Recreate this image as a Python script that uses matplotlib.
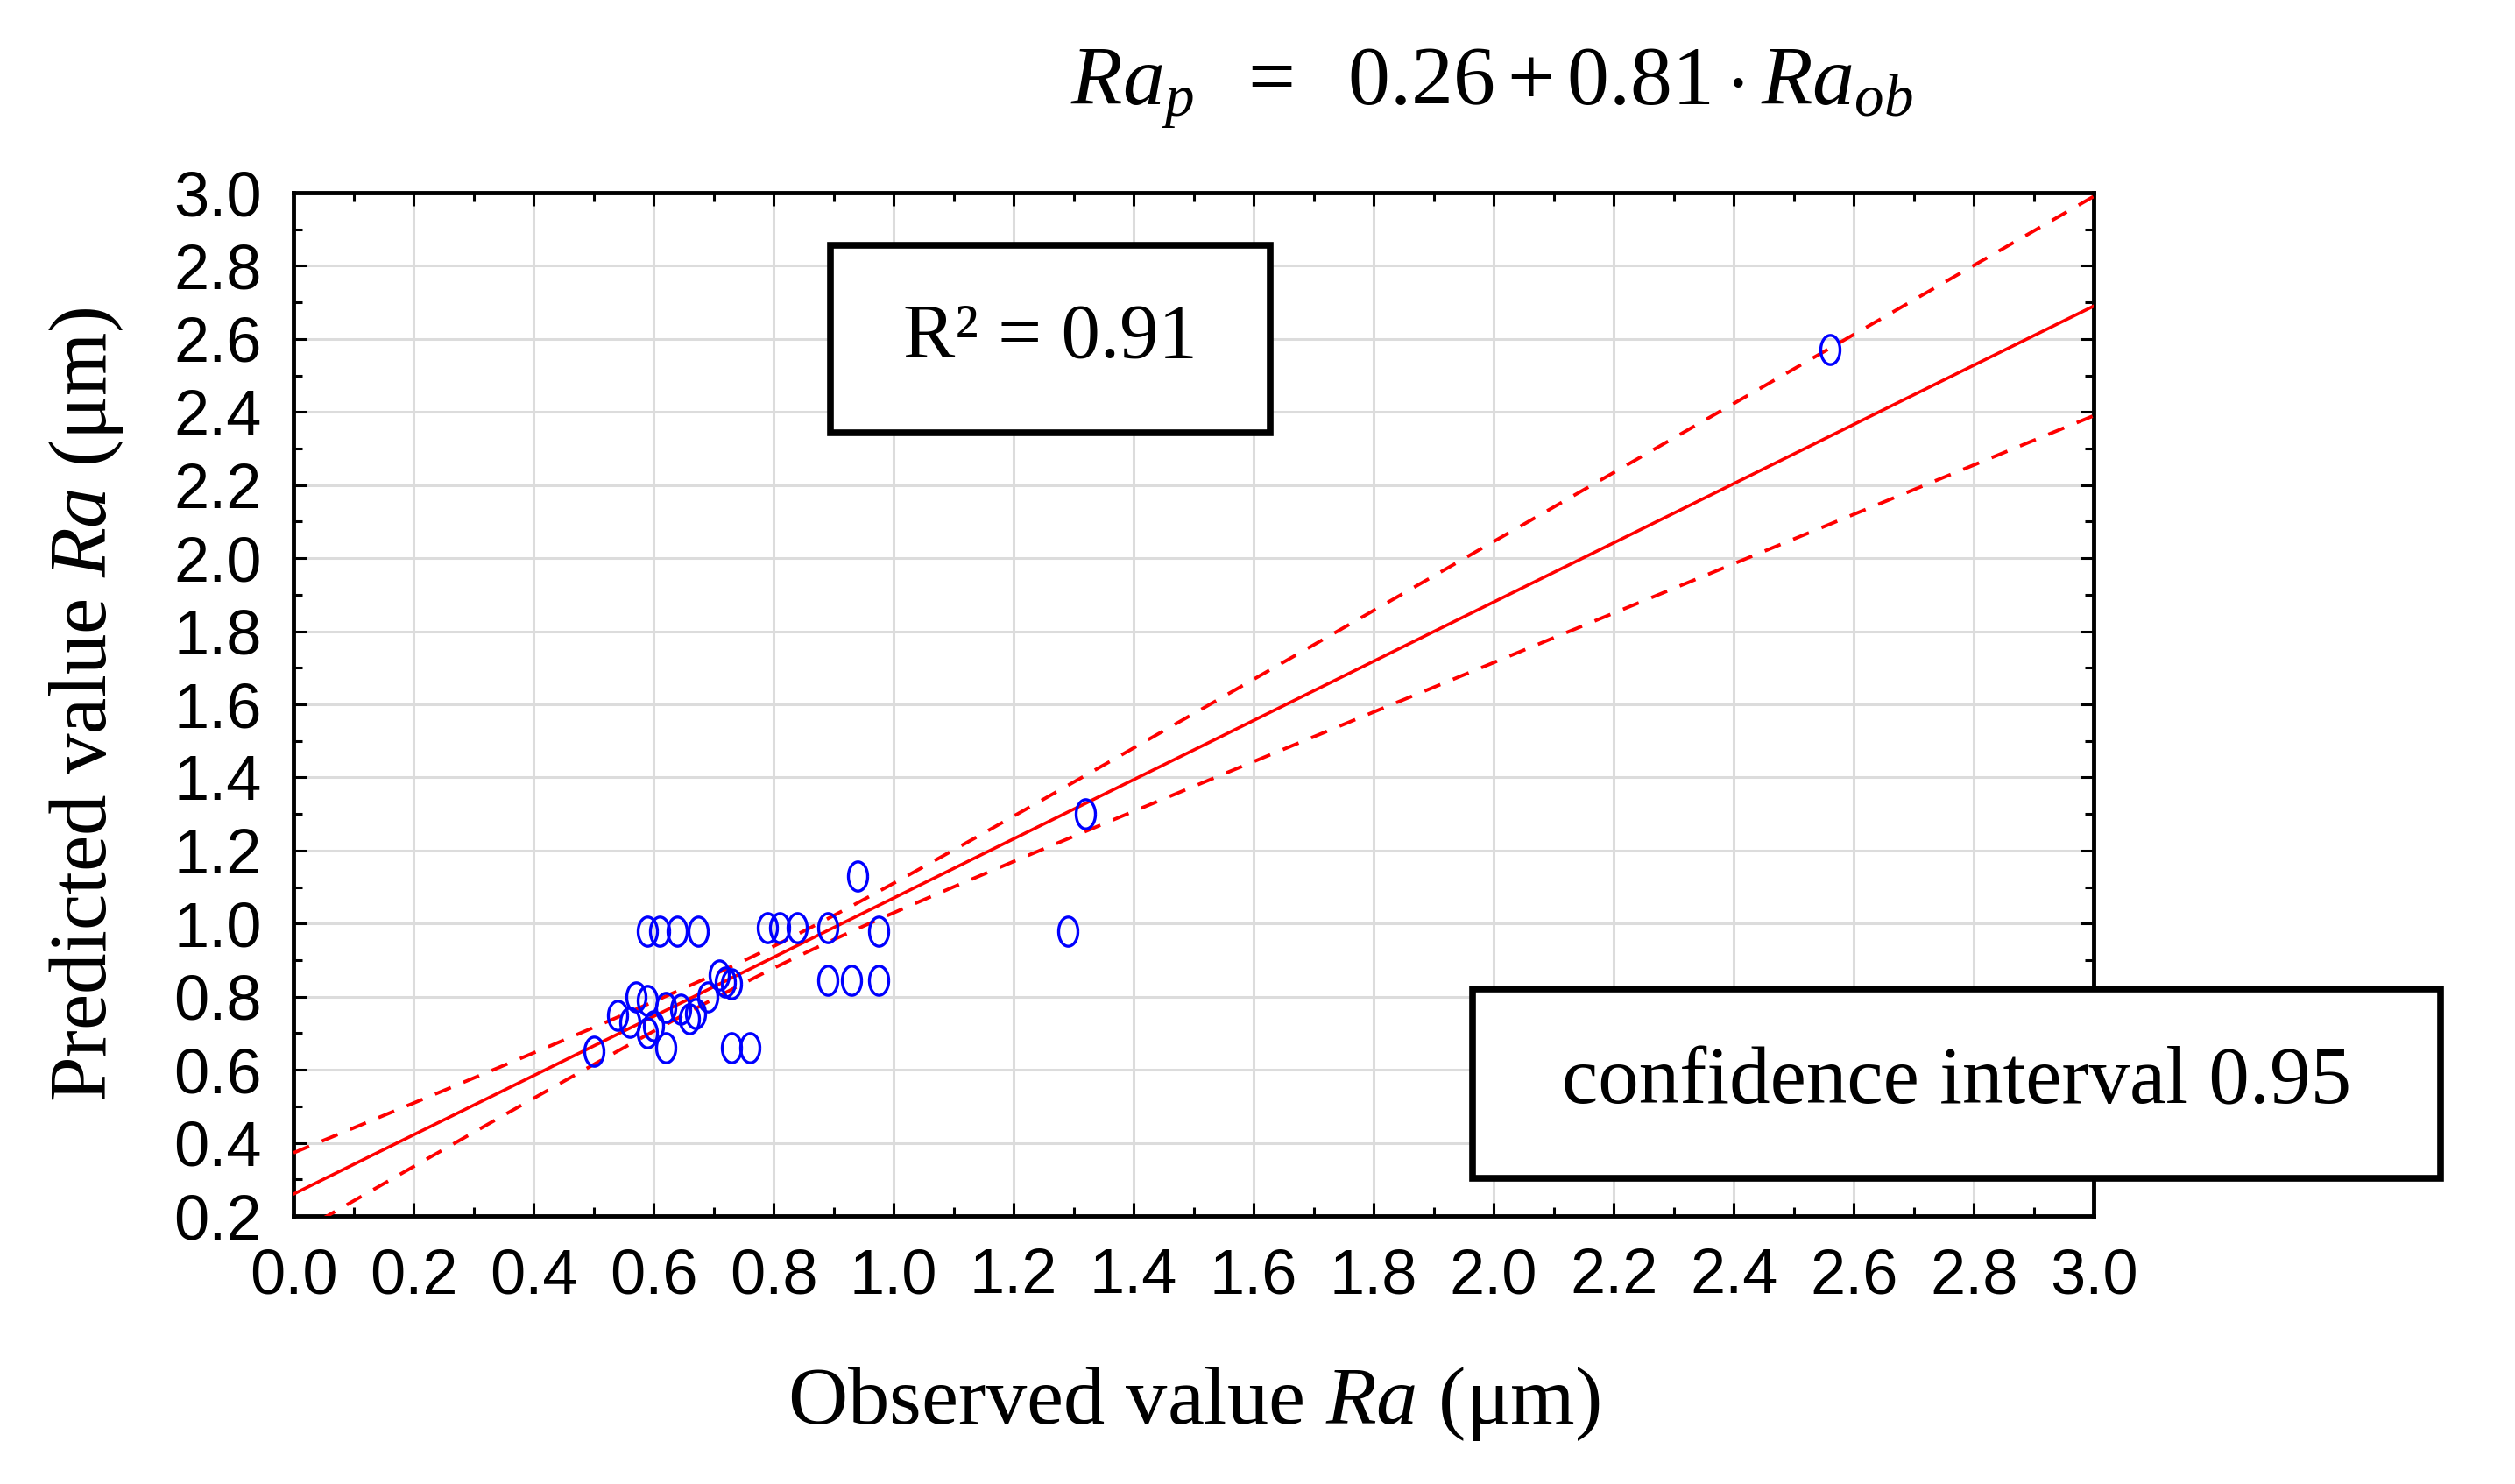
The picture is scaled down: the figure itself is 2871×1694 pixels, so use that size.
import numpy as np
import matplotlib
matplotlib.use("Agg")
import matplotlib.pyplot as plt
from matplotlib.patches import Rectangle
from matplotlib.ticker import MultipleLocator, FormatStrFormatter

# values
observed = [0.50, 0.54, 0.56, 0.57, 0.59, 0.59, 0.60, 0.62, 0.62, 0.645,
            0.67, 0.66, 0.69, 0.71, 0.72, 0.73, 0.73, 0.76,
            0.59, 0.61, 0.64, 0.675, 0.79, 0.81, 0.84, 0.89, 0.975,
            0.89, 0.93, 0.975, 0.94, 1.29, 1.32, 2.56]
predicted = [0.65, 0.75, 0.73, 0.80, 0.79, 0.70, 0.72, 0.66, 0.77, 0.765,
             0.755, 0.74, 0.80, 0.86, 0.84, 0.835, 0.66, 0.66,
             0.98, 0.98, 0.98, 0.98, 0.99, 0.99, 0.99, 0.99, 0.98,
             0.845, 0.845, 0.845, 1.13, 0.98, 1.30, 2.57]

intercept = 0.26
slope = 0.81
r_squared = 0.91
conf_level = 0.95
band_min = 0.03    # half-width of the confidence band at the mean observed value
band_edge = 0.30   # half-width of the confidence band at Ra = 3.0

x_ticks = np.arange(0.0, 3.01, 0.2)
y_ticks = np.arange(0.2, 3.01, 0.2)

plt.rcParams['mathtext.fontset'] = 'custom'
plt.rcParams['mathtext.rm'] = 'Liberation Serif'
plt.rcParams['mathtext.it'] = 'Liberation Serif:italic'

serif = ['Liberation Serif', 'DejaVu Serif']
sans = ['Liberation Sans', 'DejaVu Sans']

fig = plt.figure(figsize=(28.71, 16.94), dpi=100)
ax = fig.add_axes([0.1167, 0.1806, 0.7158, 0.6895])

# regression line and its confidence band
x_line = np.linspace(0.0, 3.0, 400)
y_line = intercept + slope * x_line
x_mean = np.mean(observed)
spread = np.sqrt((band_edge ** 2 - band_min ** 2) / (3.0 - x_mean) ** 2)
half = np.sqrt(band_min ** 2 + (spread * (x_line - x_mean)) ** 2)

ax.plot(x_line, y_line, color='#ff0000', lw=2.6, zorder=3)
ax.plot(x_line, y_line + half, color='#ff0000', lw=2.8, ls=(0, (5, 4)), zorder=3)
ax.plot(x_line, y_line - half, color='#ff0000', lw=2.8, ls=(0, (5, 4)), zorder=3)

# open oval markers, as in the original
t = np.linspace(0, 2 * np.pi, 60)
oval = list(zip(0.66 * np.cos(t), np.sin(t)))
ax.plot(observed, predicted, ls='none', marker=oval, ms=24, mfc='none',
        mec='#0000ff', mew=2.4, zorder=4)

ax.set_xlim(0.0, 3.0)
ax.set_ylim(0.2, 3.0)
ax.set_xticks(x_ticks)
ax.set_yticks(y_ticks)
ax.xaxis.set_minor_locator(MultipleLocator(0.1))
ax.yaxis.set_minor_locator(MultipleLocator(0.1))
ax.xaxis.set_major_formatter(FormatStrFormatter('%.1f'))
ax.yaxis.set_major_formatter(FormatStrFormatter('%.1f'))
ax.grid(True, which='major', color='#dcdcdc', lw=2.2, zorder=0)
ax.set_axisbelow(True)

ax.tick_params(which='both', direction='in', top=True, right=True, width=2.2)
ax.tick_params(which='major', length=11, pad=26, labelsize=52)
ax.tick_params(which='minor', length=7)
for lab in ax.get_xticklabels() + ax.get_yticklabels():
    lab.set_family(sans)
for sp in ax.spines.values():
    sp.set_linewidth(3.5)

ax.set_xlabel('Observed value $\\mathit{Ra}$ (μm)', fontsize=68, family=serif,
              labelpad=48)
ax.set_ylabel('Predicted value $\\mathit{Ra}$ (μm)', fontsize=67, family=serif,
              labelpad=40)

# equation above the plot
fig.text(0.593, 0.94,
         f'$Ra_p\\ \\ =\\ \\ {intercept:.2f} + {slope:.2f}\\cdot Ra_{{ob}}$',
         fontsize=69, ha='center', va='center')

# R^2 box
fig.add_artist(Rectangle((0.3302, 0.7084), 0.1748, 0.1263, transform=fig.transFigure,
                         fc='white', ec='black', lw=5.5, zorder=6))
fig.text(0.4176, 0.7716, f'R² = {r_squared:.2f}', fontsize=64, family=serif,
         ha='center', va='center', zorder=7)

# confidence interval box
fig.add_artist(Rectangle((0.5855, 0.2060), 0.3849, 0.1275, transform=fig.transFigure,
                         fc='white', ec='black', lw=5.5, zorder=6))
fig.text(0.778, 0.2698, f'confidence interval {conf_level:.2f}', fontsize=67,
         family=serif, ha='center', va='center', zorder=7)

fig.savefig('out.png', dpi=100)
